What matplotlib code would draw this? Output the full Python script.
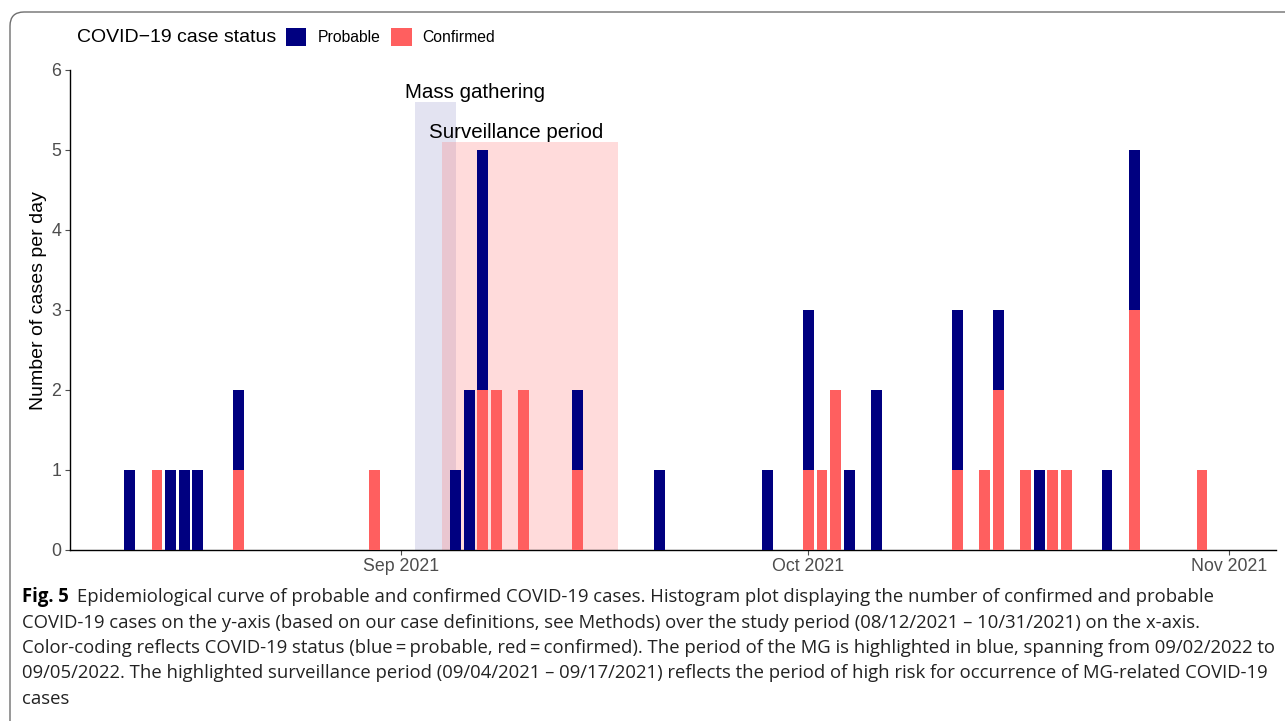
import datetime as dt
import numpy as np
import matplotlib as mpl
mpl.use('Agg')
import matplotlib.pyplot as plt
import matplotlib.dates as mdates
from matplotlib.patches import Rectangle, FancyBboxPatch
from matplotlib.transforms import IdentityTransform

clr_prob = '#000080'
clr_conf = '#FF5F5F'
clr_tick = '#4D4D4D'

# daily cases (day, confirmed, probable)
days = ['2021-08-12', '2021-08-14', '2021-08-15', '2021-08-16', '2021-08-17', '2021-08-20',
        '2021-08-30', '2021-09-05', '2021-09-06', '2021-09-07', '2021-09-08', '2021-09-10',
        '2021-09-14', '2021-09-20', '2021-09-28', '2021-10-01', '2021-10-02', '2021-10-03',
        '2021-10-04', '2021-10-06', '2021-10-12', '2021-10-14', '2021-10-15', '2021-10-17',
        '2021-10-18', '2021-10-19', '2021-10-20', '2021-10-23', '2021-10-25', '2021-10-30']
confirmed = [0, 1, 0, 0, 0, 1,
             1, 0, 0, 2, 2, 2,
             1, 0, 0, 1, 1, 2,
             0, 0, 1, 1, 2, 1,
             0, 1, 1, 0, 3, 1]
probable = [1, 0, 1, 1, 1, 1,
            0, 1, 2, 3, 0, 0,
            1, 1, 1, 2, 0, 0,
            1, 2, 2, 0, 1, 0,
            1, 0, 0, 1, 2, 0]

# highlighted periods
mg_period = ('2021-09-02', '2021-09-05')
surv_period = ('2021-09-04', '2021-09-17')

xticks = ['2021-09-01', '2021-10-01', '2021-11-01']
xtick_labels = ['Sep 2021', 'Oct 2021', 'Nov 2021']

caption = ['Epidemiological curve of probable and confirmed COVID-19 cases. Histogram plot displaying the number of confirmed and probable',
           'COVID-19 cases on the y-axis (based on our case definitions, see Methods) over the study period (08/12/2021 \u2013 10/31/2021) on the x-axis.',
           'Color-coding reflects COVID-19 status (blue\u2009=\u2009probable, red\u2009=\u2009confirmed). The period of the MG is highlighted in blue, spanning from 09/02/2022 to',
           '09/05/2022. The highlighted surveillance period (09/04/2021 \u2013 09/17/2021) reflects the period of high risk for occurrence of MG-related COVID-19',
           'cases']


def dnum(s):
    return mdates.date2num(dt.datetime.strptime(s, '%Y-%m-%d'))


plt.rcParams['font.family'] = ['Liberation Sans', 'DejaVu Sans']

rDPI = 100.
fig = plt.figure(figsize=(12.85, 7.21), dpi=rDPI, facecolor='w')
W, H = 1285., 721.
ax = fig.add_axes([69.5/W, 1-550/H, (1276-69.5)/W, (550-70)/H])

vx = np.array([dnum(d) for d in days])
vc = np.array(confirmed)
vp = np.array(probable)

# shaded periods
m0, m1 = dnum(mg_period[0]), dnum(mg_period[1])
s0, s1 = dnum(surv_period[0]), dnum(surv_period[1])
ax.add_patch(Rectangle((m0, 0), m1-m0, 5.6, facecolor=clr_prob, alpha=0.11, lw=0, zorder=1))
ax.add_patch(Rectangle((s0, 0), s1-s0, 5.1, facecolor=clr_conf, alpha=0.22, lw=0, zorder=2))
ax.text(dnum('2021-09-01')+5.45, 5.6, 'Mass gathering', ha='center', va='bottom', fontsize=14.8, zorder=5)
ax.text(dnum('2021-09-01')+8.45, 5.1, 'Surveillance period', ha='center', va='bottom', fontsize=14.8, zorder=5)

b1 = ax.bar(vx, vc, width=0.8, color=clr_conf, lw=0, zorder=3)
b2 = ax.bar(vx, vp, bottom=vc, width=0.8, color=clr_prob, lw=0, zorder=3)

sep1 = dnum('2021-09-01')
ax.set_xlim(sep1-24.45, sep1+64.45)
ax.set_ylim(0, 6)
ax.set_xticks([dnum(d) for d in xticks])
ax.set_xticklabels(xtick_labels)
ax.set_yticks(range(0, 7))
for s in ['top', 'right']:
    ax.spines[s].set_visible(False)
for s in ['left', 'bottom']:
    ax.spines[s].set_linewidth(1.0)
    ax.spines[s].set_color('k')
ax.tick_params(axis='both', colors=clr_tick, labelsize=12.8, length=3.5, width=0.8, pad=2.5)
ax.set_ylabel('Number of cases per day', fontsize=14)
ax.yaxis.set_label_coords(-0.019, 0.519)

# legend
fig.text(77/W, 1-37/H, 'COVID\u221219 case status', fontsize=14, ha='left', va='center')
leg = fig.legend([b2, b1], ['Probable', 'Confirmed'], loc='center left',
                 bbox_to_anchor=(286/W, 1-37/H), ncol=2, frameon=False, fontsize=11.3,
                 handlelength=1.3, handleheight=1.35, handletextpad=0.7, columnspacing=0.7,
                 borderpad=0., borderaxespad=0.)

# figure frame
fig.patches.append(FancyBboxPatch((10, -50), 1400, H-12+50, boxstyle='round,pad=0,rounding_size=14',
                                  transform=IdentityTransform(), facecolor='none', edgecolor='#6E6E6E',
                                  lw=1.0, figure=fig))

# caption
cap_font = ['Open Sans', 'DejaVu Sans']
cap_size = 13.35
vy = [597, 623, 648, 673, 699]
t0 = fig.text(22/W, 1-vy[0]/H, 'Fig. 5', fontsize=cap_size, fontweight='bold', family=cap_font, va='center')
rend = fig.canvas.get_renderer()
bb = t0.get_window_extent(renderer=rend)
fig.text((bb.x1+8)/W, 1-vy[0]/H, caption[0], fontsize=cap_size, family=cap_font, va='center', color='#222222')
for ii in range(1, len(caption)):
    fig.text(22/W, 1-vy[ii]/H, caption[ii], fontsize=cap_size, family=cap_font, va='center', color='#222222')

plt.savefig('out.png', dpi=rDPI, facecolor='w')
plt.close(fig)
